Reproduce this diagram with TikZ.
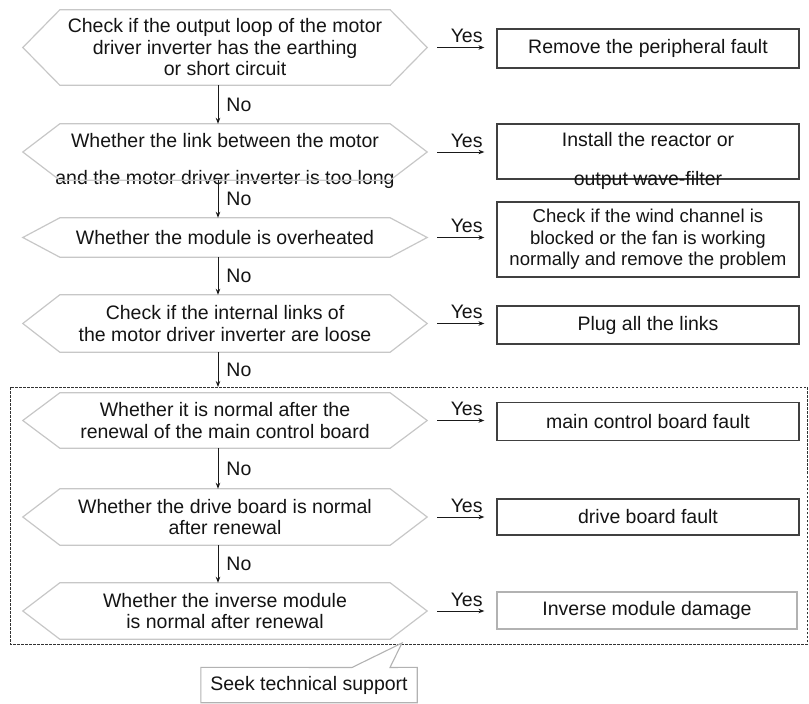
\documentclass[tikz,border=0pt]{standalone}
\usepackage{fontspec}
\setmainfont{Liberation Sans}
\usetikzlibrary{arrows.meta}
\newcommand\fsz{\fontsize{19.5bp}{21.5bp}\selectfont}
\newcommand\fszs{\fontsize{18.6bp}{21.5bp}\selectfont}
\newcommand\hexdraw[1]{\draw[hexline] (#1.north west) -- (#1.north east) -- ([xshift=37bp]#1.east) -- (#1.south east) -- (#1.south west) -- ([xshift=-37bp]#1.west) -- cycle;}
\tikzset{
  hexline/.style={draw=black!22, line width=1.2bp, line join=miter},
  hexnode/.style={minimum width=330bp, inner sep=0pt, align=center, font=\fsz, text=black!92},
  txtnode/.style={inner sep=0pt, align=center, font=\fsz, text=black!92},
  boxnode/.style={draw=black!75, line width=1.2bp, minimum width=302bp, inner sep=0pt, align=center, font=\fsz, text=black!92},
  lightbox/.style={boxnode, draw=black!30},
  flow/.style={-{Stealth[length=6bp,width=4.5bp]}, line width=0.9bp, black!90},
  lbl/.style={font=\fsz, inner sep=1bp, text=black!92},
  frameline/.style={draw=black!80, line width=1bp, dash pattern=on 2.5bp off 1.5bp},
}
\begin{document}
\begin{tikzpicture}[x=1bp, y=-1bp]
\useasboundingbox (0,0) rectangle (809,704);

% decision hexagons
\node[hexnode, minimum height=75bp] (h1) at (225,47.5) {Check if the output loop of the motor\\driver inverter has the earthing\\or short circuit};
\node[hexnode, minimum height=56bp] (h2) at (225,152) {};
\node[txtnode] (h2t) at (225,161) {Whether the link between the motor\\[16bp]and the motor driver inverter is too long};
\node[hexnode, minimum height=39bp] (h3) at (225,237.5) {Whether the module is overheated};
\node[hexnode, minimum height=57bp] (h4) at (225,323.5) {Check if the internal links of\\the motor driver inverter are loose};
\node[hexnode, minimum height=55bp] (h5) at (225,420.5) {Whether it is normal after the\\renewal of the main control board};
\node[hexnode, minimum height=56bp] (h6) at (225,517) {Whether the drive board is normal\\after renewal};
\node[hexnode, minimum height=56bp] (h7) at (225,611) {Whether the inverse module\\is normal after renewal};
\foreach \n in {h1,h2,h3,h4,h5,h6,h7} {\hexdraw{\n}}

% result boxes
\node[boxnode, minimum height=39bp] (b1) at (648,48.5) {Remove the peripheral fault};
\node[boxnode, minimum height=55bp] (b2) at (648,151.5) {};
\node[txtnode] (b2t) at (648,161) {Install the reactor or\\[17bp]output wave-filter};
\node[boxnode, minimum height=75bp, font=\fszs] (b3) at (648,239.5) {Check if the wind channel is\\blocked or the fan is working\\normally and remove the problem};
\node[boxnode, minimum height=38bp] (b4) at (648,325) {Plug all the links};
\node[boxnode, minimum height=38bp] (b5) at (648,421.5) {main control board fault};
\node[boxnode, minimum height=36bp] (b6) at (648,517) {drive board fault};
\node[lightbox, minimum width=300bp, minimum height=37bp] (b7) at (647,610.5) {Inverse module damage};

% dashed frame
\draw[frameline] (10,387) rectangle (807,644);
\coordinate (ax) at (218,0);
\coordinate (ft) at (218,387);

% No arrows
\draw[flow] (h1.south -| ax) -- (h2.north -| ax) node[lbl, midway, anchor=west, xshift=7bp] {No};
\draw[flow] (h2.south -| ax) -- (h3.north -| ax) node[lbl, midway, anchor=west, xshift=7bp] {No};
\draw[flow] (h3.south -| ax) -- (h4.north -| ax) node[lbl, midway, anchor=west, xshift=7bp] {No};
\draw[flow] (h4.south -| ax) -- (ft) node[lbl, midway, anchor=west, xshift=7bp] {No};
\draw[flow] (h5.south -| ax) -- (h6.north -| ax) node[lbl, midway, anchor=west, xshift=7bp] {No};
\draw[flow] (h6.south -| ax) -- (h7.north -| ax) node[lbl, midway, anchor=west, xshift=7bp] {No};

% Yes arrows
\foreach \i in {1,...,7} {
  \draw[flow, shorten <=47bp, shorten >=12bp] (h\i.east) -- (h\i.east -| b\i.west) node[lbl, pos=0.72, above=3bp] {Yes};
}

% callout
\node[txtnode, minimum width=216bp, minimum height=35bp] (seek) at (309,685) {Seek technical support};
\coordinate (ptip) at (402,643);
\draw[draw=black!30, line width=1.1bp] (seek.south west) -- (seek.north west) -- (352,667.5) -- (ptip) -- (390,667.5) -- (seek.north east) -- (seek.south east) -- cycle;
\end{tikzpicture}
\end{document}
